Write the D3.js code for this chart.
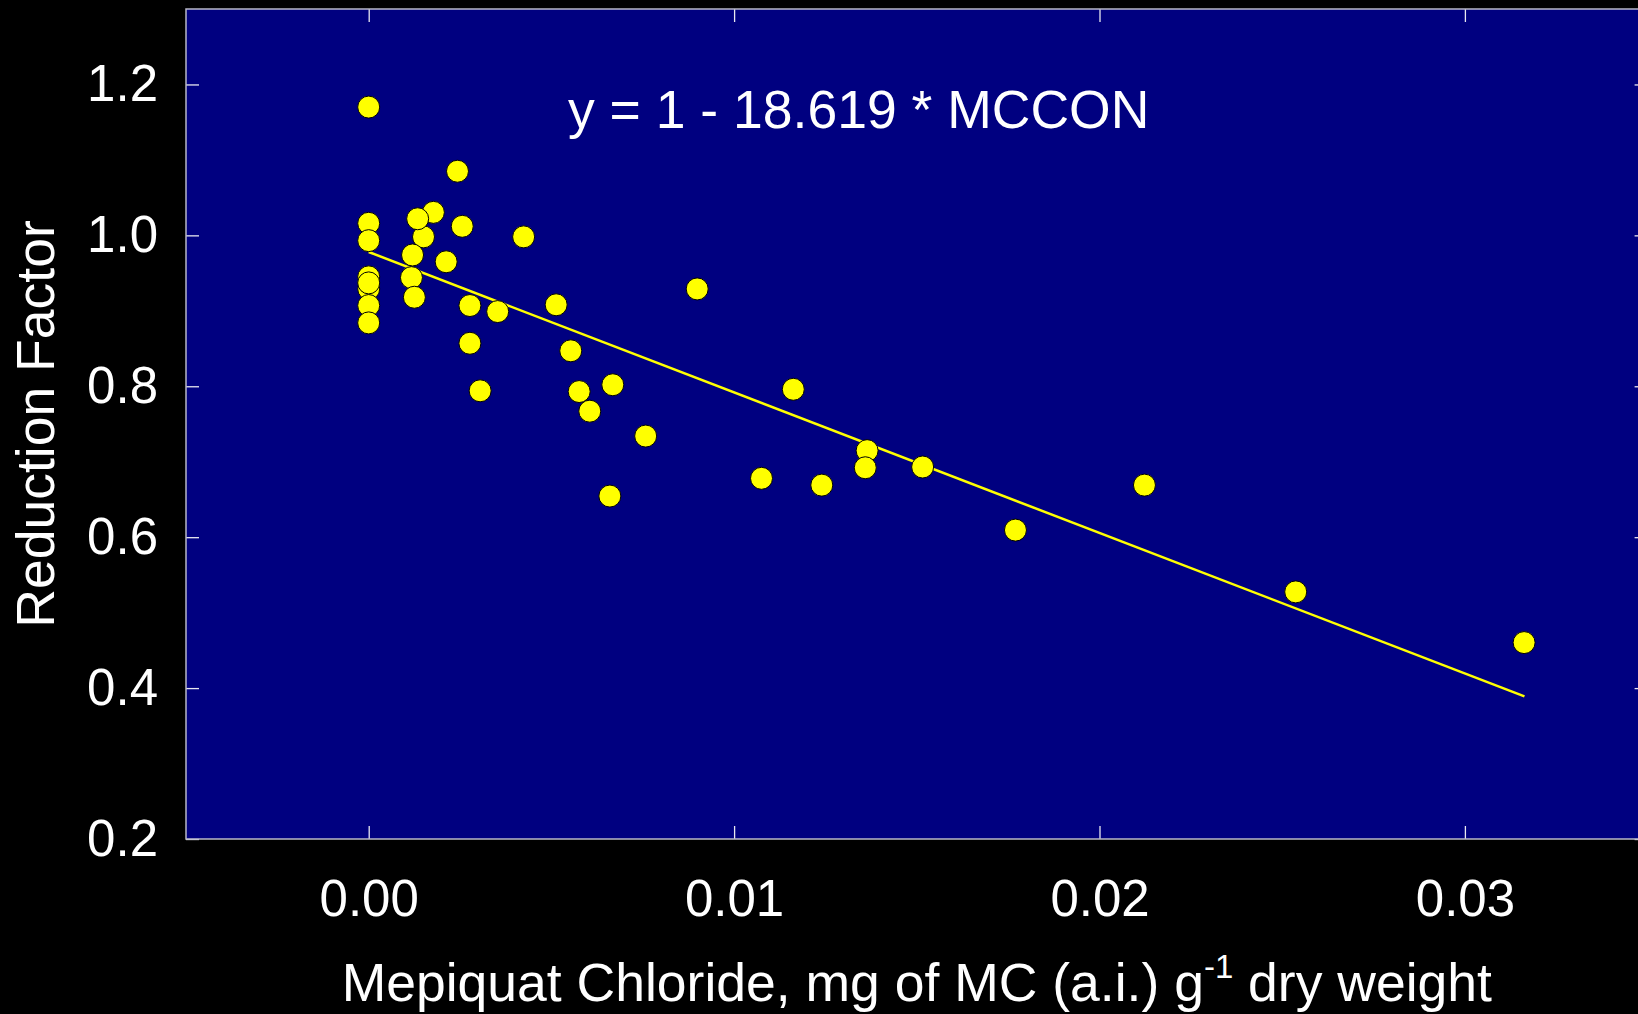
<!DOCTYPE html>
<html>
<head>
<meta charset="utf-8">
<script src="https://cdn.jsdelivr.net/npm/d3@7"></script>
<style>
  html, body { margin: 0; padding: 0; background: #000; }
  svg { display: block; }
  text { font-family: "Liberation Sans", Arial, sans-serif; fill: #fff; }
</style>
</head>
<body>
<svg id="chart" width="1638" height="1014"></svg>
<script>
// ---- data ----
const mcConc = [
  0.0000, 0.00243, 0.00177, 0.00150, 0.00134, 0.00256, 0.00424, 0.0000, 0.0000,
  0.00120, 0.00212, 0.0000, 0.0000, 0.0000, 0.00117, 0.0000, 0.0000, 0.00125,
  0.00277, 0.00353, 0.00513, 0.00277, 0.00553, 0.00305, 0.00576, 0.00605,
  0.00668, 0.00758, 0.00660, 0.00899, 0.01162, 0.01075, 0.01240, 0.01364,
  0.01359, 0.01516, 0.01770, 0.02123, 0.02537, 0.03162
];
const reductionFactor = [
  1.170, 1.085, 1.0305, 0.998, 1.022, 1.012, 0.998, 1.016, 0.993,
  0.974, 0.965, 0.929, 0.945, 0.937, 0.944, 0.907, 0.884, 0.918,
  0.907, 0.899, 0.908, 0.857, 0.847, 0.794, 0.793, 0.767,
  0.802, 0.734, 0.6545, 0.929, 0.796, 0.678, 0.669, 0.7147,
  0.692, 0.693, 0.6094, 0.669, 0.5275, 0.4603
];
const fitIntercept = 0.978;
const fitSlope = -18.619;
const fitRange = [0, 0.03163];
const xTicks = [0.00, 0.01, 0.02, 0.03];
const yTicks = [0.2, 0.4, 0.6, 0.8, 1.0, 1.2];
const equationLabel = "y = 1 - 18.619 * MCCON";

// ---- layout ----
const svg = d3.select("#chart");
const pLeft = 186, pTop = 9, pRight = 1647.6, pBottom = 839;

const x = d3.scaleLinear().domain([-0.005, 0.035]).range([pLeft, pRight]);
const y = d3.scaleLinear().domain([0.2, 1.3]).range([pBottom, pTop]);

svg.append("rect").attr("x", 0).attr("y", 0).attr("width", 1638).attr("height", 1014).attr("fill", "#000");
svg.append("rect")
  .attr("x", pLeft).attr("y", pTop)
  .attr("width", pRight - pLeft).attr("height", pBottom - pTop)
  .attr("fill", "#000080");

function styleAxis(g) {
  g.select(".domain").remove();
  g.selectAll(".tick line").attr("stroke", "#e8e8f0").attr("stroke-width", 1.3);
  g.selectAll(".tick text").attr("fill", "#fff").style("font-size", "51px")
    .style("font-family", '"Liberation Sans", Arial, sans-serif');
}

svg.append("g").attr("transform", `translate(${pLeft},0)`)
  .call(d3.axisLeft(y).tickValues(yTicks).tickFormat(d3.format(".1f"))
    .tickSizeInner(-13).tickSizeOuter(0).tickPadding(28))
  .call(styleAxis);

svg.append("g").attr("transform", `translate(${pRight},0)`)
  .call(d3.axisRight(y).tickValues(yTicks).tickFormat("")
    .tickSizeInner(-13).tickSizeOuter(0))
  .call(styleAxis);

svg.append("g").attr("transform", `translate(0,${pBottom})`)
  .call(d3.axisBottom(x).tickValues(xTicks).tickFormat(d3.format(".2f"))
    .tickSizeInner(-13).tickSizeOuter(0).tickPadding(41))
  .call(styleAxis);

svg.append("g").attr("transform", `translate(0,${pTop})`)
  .call(d3.axisTop(x).tickValues(xTicks).tickFormat("")
    .tickSizeInner(-13).tickSizeOuter(0))
  .call(styleAxis);

// plot border
svg.append("rect")
  .attr("x", pLeft).attr("y", pTop)
  .attr("width", pRight - pLeft).attr("height", pBottom - pTop)
  .attr("fill", "none").attr("stroke", "#b8b8c8").attr("stroke-width", 1.5);

// regression line
const line = d3.line().x(d => x(d)).y(d => y(fitIntercept + fitSlope * d));
svg.append("path").datum(fitRange)
  .attr("d", line).attr("fill", "none")
  .attr("stroke", "#ffff00").attr("stroke-width", 2.5);

// points
const pts = mcConc.map((v, i) => ({ x: v, y: reductionFactor[i] }));
svg.append("g").selectAll("circle").data(pts).join("circle")
  .attr("cx", d => x(d.x)).attr("cy", d => y(d.y)).attr("r", 11)
  .attr("fill", "#ffff00").attr("stroke", "#000").attr("stroke-width", 1);

// equation
svg.append("text").attr("x", 568).attr("y", 128)
  .style("font-size", "53.5px").text(equationLabel);

// y title
svg.append("text")
  .attr("transform", `translate(54,${(pTop + pBottom) / 2}) rotate(-90)`)
  .attr("text-anchor", "middle").style("font-size", "53.5px")
  .text("Reduction Factor");

// x title
const xt = svg.append("text")
  .attr("x", (pLeft + pRight) / 2).attr("y", 1001)
  .attr("text-anchor", "middle").style("font-size", "53.5px");
xt.append("tspan").text("Mepiquat Chloride, mg of MC (a.i.) g");
xt.append("tspan").attr("dy", -23).style("font-size", "33px").text("-1");
xt.append("tspan").attr("dy", 23).text(" dry weight");
</script>
</body>
</html>
